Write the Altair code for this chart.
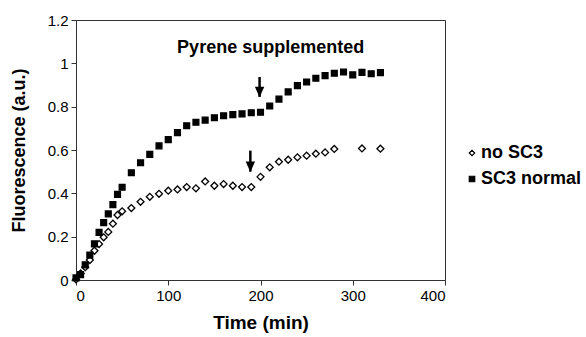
import altair as alt
import pandas as pd

# ---- data ----
series_names = ["no SC3", "SC3 normal"]

time_no_sc3 = [0, 5, 10, 15, 20, 25, 30, 35, 40, 45, 50, 60, 70, 80, 90, 100, 110, 120,
               130, 140, 150, 160, 170, 180, 190, 200, 210, 220, 230, 240, 250, 260, 270,
               280, 310, 330]
fluor_no_sc3 = [0.003, 0.03, 0.059, 0.092, 0.135, 0.166, 0.197, 0.222, 0.26, 0.30, 0.317,
                0.332, 0.361, 0.384, 0.398, 0.412, 0.418, 0.429, 0.423, 0.455, 0.435, 0.443,
                0.435, 0.429, 0.429, 0.476, 0.52, 0.546, 0.555, 0.566, 0.574, 0.583, 0.589,
                0.605, 0.607, 0.606]

time_sc3_normal = [0, 5, 10, 15, 20, 25, 30, 35, 40, 45, 50, 60, 70, 80, 90, 100, 110, 120,
                   130, 140, 150, 160, 170, 180, 190, 200, 210, 220, 230, 240, 250, 260, 270,
                   280, 290, 300, 310, 320, 330]
fluor_sc3_normal = [0.01, 0.025, 0.07, 0.115, 0.167, 0.22, 0.265, 0.305, 0.348, 0.395, 0.428,
                    0.495, 0.541, 0.58, 0.619, 0.648, 0.68, 0.712, 0.728, 0.738, 0.749, 0.758,
                    0.763, 0.767, 0.772, 0.774, 0.803, 0.835, 0.868, 0.897, 0.914, 0.931,
                    0.943, 0.954, 0.96, 0.947, 0.958, 0.952, 0.957]

arrow_time = [189, 199]
arrow_top = [0.597, 0.937]
arrow_tip = [0.50, 0.845]

annotation_text = ["Pyrene supplemented"]
annotation_time = [211]
annotation_value = [1.07]

x_ticks = [0, 100, 200, 300, 400]
y_ticks = [0, 0.2, 0.4, 0.6, 0.8, 1.0, 1.2]

# ---- tables ----
df_no = pd.DataFrame({"time": time_no_sc3, "fluor": fluor_no_sc3, "series": series_names[0]})
df_sc3 = pd.DataFrame({"time": time_sc3_normal, "fluor": fluor_sc3_normal, "series": series_names[1]})
df_arrow = pd.DataFrame({"time": arrow_time, "top": arrow_top, "tip": arrow_tip})
df_text = pd.DataFrame({"label": annotation_text, "time": annotation_time, "fluor": annotation_value})

FONT = "Liberation Sans"
x_scale = alt.Scale(domain=[0, 400], nice=False, zero=False)
y_scale = alt.Scale(domain=[0, 1.2], nice=False)

shape_scale = alt.Scale(domain=series_names, range=["diamond", "square"])
fill_scale = alt.Scale(domain=series_names, range=["white", "black"])
stroke_scale = alt.Scale(domain=series_names, range=["black", "black"])

x_enc = alt.X("time:Q", scale=x_scale,
              axis=alt.Axis(values=x_ticks, title="Time (min)", grid=False,
                            labelFontSize=15, titleFontSize=19, titleFontWeight="bold",
                            labelPadding=3, titlePadding=10, tickSize=5))
y_enc = alt.Y("fluor:Q", scale=y_scale,
              axis=alt.Axis(values=y_ticks, title="Fluorescence (a.u.)", grid=False,
                            labelExpr="datum.value == 0 ? '0' : format(datum.value, '.1~f')",
                            labelFontSize=15, titleFontSize=18, titleFontWeight="bold",
                            labelPadding=3, titlePadding=19, tickSize=5))

legend = alt.Legend(title=None, orient="none", legendX=387, legendY=124,
                    labelFontSize=18, labelFontWeight="bold", labelFont=FONT,
                    symbolSize=30, symbolStrokeWidth=1.2,
                    rowPadding=8, labelOffset=0)


def enc_common():
    return dict(
        shape=alt.Shape("series:N", scale=shape_scale, legend=legend),
        fill=alt.Fill("series:N", scale=fill_scale, legend=legend),
        stroke=alt.Stroke("series:N", scale=stroke_scale, legend=legend),
    )


diamonds = alt.Chart(df_no).mark_point(filled=True, strokeWidth=1.3,
                                       size=48, opacity=1).encode(
    x=x_enc, y=y_enc, **enc_common()
)

squares = alt.Chart(df_sc3).mark_point(filled=True, strokeWidth=1.3,
                                       size=34, opacity=1).encode(
    x="time:Q", y="fluor:Q", **enc_common()
)

shafts = alt.Chart(df_arrow).mark_rule(color="black", strokeWidth=2.5).encode(
    x="time:Q", y="top:Q", y2="tip:Q",
)

heads = alt.Chart(df_arrow).mark_point(filled=True, color="black", opacity=1, size=110,
                                       shape="M-0.9,-1L0.9,-1L0,1Z", yOffset=-5).encode(
    x="time:Q", y="tip:Q",
)

label = alt.Chart(df_text).mark_text(font=FONT, fontSize=18, fontWeight="bold",
                                     align="center", baseline="middle", color="black").encode(
    x="time:Q", y="fluor:Q", text="label:N",
)

chart = alt.layer(diamonds, squares, shafts, heads, label).properties(
    width=369, height=260,
    autosize=alt.AutoSizeParams(type="none"),
    padding={"left": 76, "top": 20, "right": 141, "bottom": 57},
    background="white",
).configure_view(
    stroke="#333333", strokeWidth=1,
).configure_axis(
    labelFont=FONT, titleFont=FONT, labelColor="black", titleColor="black",
    domainColor="#333333", tickColor="#333333", domainWidth=1,
)

chart.save("out.html", embed_options={"renderer": "svg", "actions": False})
